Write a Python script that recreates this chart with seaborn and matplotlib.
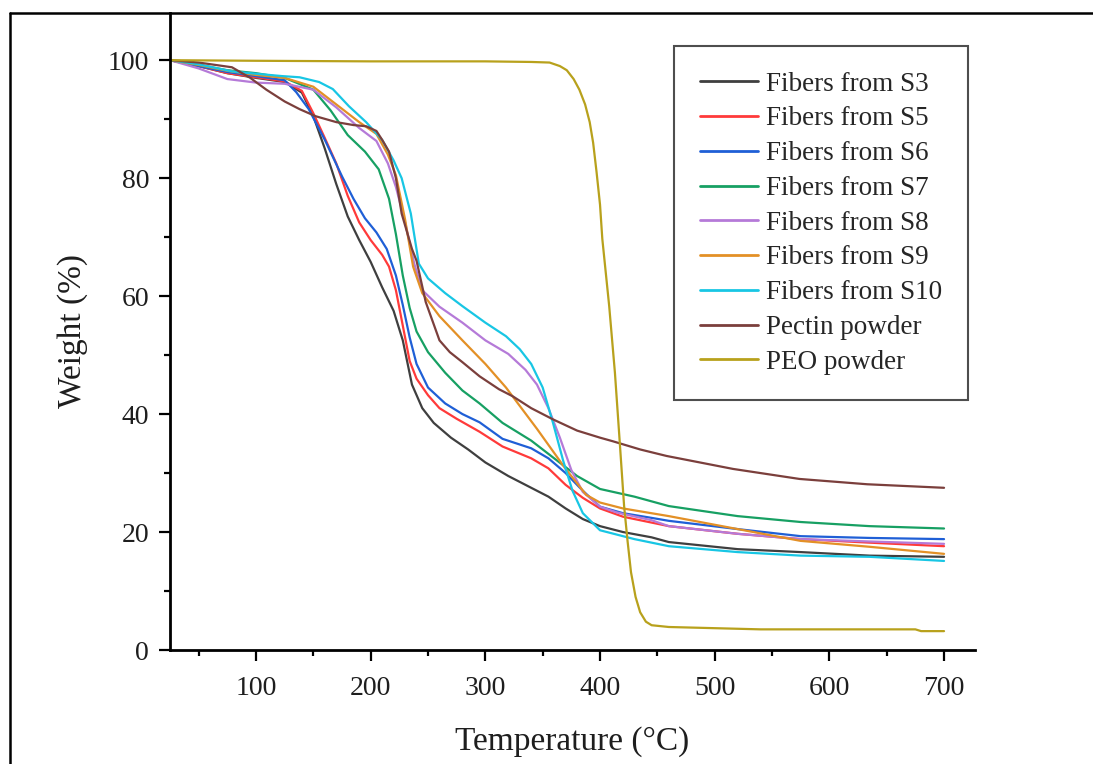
import numpy as np
import pandas as pd
import matplotlib
matplotlib.use("Agg")
import matplotlib.pyplot as plt
from matplotlib.lines import Line2D
import seaborn as sns

# ---------------- data ----------------
series_names = ["Fibers from S3", "Fibers from S5", "Fibers from S6", "Fibers from S7",
                "Fibers from S8", "Fibers from S9", "Fibers from S10",
                "Pectin powder", "PEO powder"]

s3_t = [25, 50, 75, 100, 125, 140, 150, 160, 170, 180, 190, 200, 210, 220, 228, 236, 245, 255,
        270, 285, 300, 320, 340, 355, 370, 385, 400, 420, 445, 460, 520, 575, 635, 700]
s3_w = [100, 99.0, 97.8, 97.0, 96.3, 94.5, 90.5, 85.0, 79.0, 73.5, 69.5, 65.8, 61.5, 57.5, 52.5,
        45.0, 41.0, 38.5, 36.0, 34.0, 31.8, 29.5, 27.5, 26.0, 24.0, 22.2, 21.0, 20.0, 19.1, 18.3,
        17.1, 16.6, 16.0, 15.8]

s5_t = [25, 50, 75, 100, 125, 140, 150, 160, 170, 180, 190, 200, 210, 216, 222, 228, 234, 240,
        250, 260, 275, 295, 315, 340, 355, 370, 385, 400, 420, 445, 460, 520, 575, 635, 700]
s5_w = [100, 99.0, 97.8, 97.1, 96.4, 94.8, 91.0, 86.8, 82.5, 77.0, 72.5, 69.5, 67.0, 65.0, 61.0,
        55.0, 49.0, 46.0, 43.2, 41.0, 39.2, 37.0, 34.5, 32.5, 30.8, 28.0, 25.8, 24.0, 22.6, 21.6,
        21.0, 19.7, 18.8, 18.2, 17.6]

s6_t = [25, 50, 75, 100, 125, 135, 146, 160, 175, 185, 195, 205, 214, 222, 228, 234, 240, 250,
        265, 280, 295, 315, 340, 355, 370, 385, 400, 420, 445, 460, 520, 575, 635, 700]
s6_w = [100, 99.0, 98.0, 97.3, 96.6, 94.6, 91.7, 86.5, 80.3, 76.5, 73.2, 70.8, 68.0, 63.5, 58.5,
        53.0, 48.5, 44.5, 41.8, 40.0, 38.6, 35.8, 34.2, 32.5, 30.0, 27.0, 24.3, 23.2, 22.4, 21.9,
        20.5, 19.3, 19.0, 18.8]

s7_t = [25, 50, 75, 100, 125, 150, 165, 180, 195, 207, 216, 222, 228, 234, 240, 250, 265, 280,
        295, 315, 340, 360, 380, 400, 430, 460, 520, 575, 635, 700]
s7_w = [100, 99.2, 98.3, 97.8, 97.0, 95.0, 91.5, 87.3, 84.5, 81.5, 76.5, 70.5, 63.5, 58.0, 54.0,
        50.5, 47.0, 44.0, 41.8, 38.5, 35.5, 32.5, 29.5, 27.3, 26.0, 24.4, 22.7, 21.7, 21.0, 20.6]

s8_t = [25, 50, 75, 100, 125, 150, 170, 190, 205, 215, 222, 230, 238, 245, 260, 280, 300, 320,
        335, 345, 355, 365, 375, 385, 400, 415, 445, 460, 520, 575, 635, 700]
s8_w = [100, 98.6, 96.8, 96.2, 96.0, 95.0, 92.0, 88.5, 86.3, 82.5, 78.5, 72.5, 65.5, 61.0, 58.2,
        55.5, 52.5, 50.2, 47.5, 45.0, 41.0, 36.0, 30.5, 26.8, 24.3, 23.3, 22.0, 21.0, 19.7, 18.8,
        18.4, 18.0]

s9_t = [25, 50, 75, 100, 125, 150, 170, 190, 205, 215, 222, 230, 237, 245, 260, 280, 300, 318,
        345, 370, 388, 400, 420, 460, 520, 575, 635, 700]
s9_w = [100, 99.2, 98.2, 97.5, 97.0, 95.5, 92.5, 89.5, 87.5, 84.0, 80.5, 73.0, 65.0, 60.5, 56.6,
        52.5, 48.5, 44.5, 37.5, 30.7, 26.3, 25.0, 24.0, 22.7, 20.5, 18.5, 17.5, 16.3]

s10_t = [25, 50, 79, 100, 123, 138, 155, 167, 181, 196, 210, 220, 227, 235, 242, 250, 265, 280,
         300, 318, 330, 340, 350, 359, 368, 376, 385, 400, 430, 460, 520, 575, 635, 700]
s10_w = [100, 99.3, 98.1, 97.7, 97.3, 97.1, 96.3, 95.1, 92.2, 89.5, 86.5, 83.0, 80.0, 74.0, 65.5,
         63.0, 60.5, 58.3, 55.5, 53.2, 51.0, 48.5, 44.5, 38.5, 32.0, 27.0, 23.2, 20.3, 18.8, 17.6,
         16.6, 16.0, 15.8, 15.1]

pectin_t = [25, 50, 79, 95, 109, 125, 138, 152, 170, 185, 196, 205, 210, 216, 222, 227, 236, 240,
            248, 260, 269, 280, 295, 312, 324, 340, 359, 380, 400, 411, 435, 458, 516, 574, 633, 700]
pectin_w = [100, 99.6, 98.8, 97.0, 95.0, 93.0, 91.7, 90.5, 89.5, 89.0, 88.8, 88.0, 86.5, 84.5,
            80.0, 74.0, 68.0, 66.0, 59.0, 52.5, 50.5, 48.8, 46.4, 44.2, 43.0, 41.0, 39.1, 37.2,
            36.0, 35.4, 34.0, 32.9, 30.7, 29.0, 28.1, 27.5]

peo_t = [25, 100, 200, 300, 340, 356, 365, 371, 377, 382, 387, 391, 394, 397, 400, 402, 405, 408,
         413, 417, 421, 424, 427, 431, 435, 440, 445, 460, 480, 500, 540, 600, 675, 680, 700]
peo_w = [100, 99.9, 99.8, 99.8, 99.7, 99.6, 99.0, 98.3, 96.8, 95.0, 92.5, 89.5, 86.0, 81.0, 75.5,
         69.7, 64.0, 58.3, 47.0, 35.8, 24.4, 18.5, 13.2, 9.0, 6.4, 4.8, 4.2, 3.9, 3.8, 3.7, 3.5,
         3.5, 3.5, 3.2, 3.2]

x_ticks = [100, 200, 300, 400, 500, 600, 700]
y_ticks = [0, 20, 40, 60, 80, 100]

# ---------------- build long table ----------------
temps = [s3_t, s5_t, s6_t, s7_t, s8_t, s9_t, s10_t, pectin_t, peo_t]
weights = [s3_w, s5_w, s6_w, s7_w, s8_w, s9_w, s10_w, pectin_w, peo_w]
frames = []
for name, t, w in zip(series_names, temps, weights):
    frames.append(pd.DataFrame({"Temperature": t, "Weight": w, "Sample": name}))
df = pd.concat(frames, ignore_index=True)

colors = ["#3f3f3f", "#ff3a3a", "#1f5fd6", "#17a063", "#b57ad8",
          "#e39026", "#18c6e4", "#7b3f3c", "#b8a11c"]
palette = dict(zip(series_names, colors))

# ---------------- plotting ----------------
sns.set_theme(style="ticks")
plt.rcParams["font.family"] = ["Liberation Serif", "DejaVu Serif"]
plt.rcParams["mathtext.fontset"] = "stix"

fig = plt.figure(figsize=(10.93, 7.64), dpi=100)
ax = fig.add_axes([170 / 1093, 1 - 650 / 764, (975 - 170) / 1093, (650 - 13) / 764])

sns.lineplot(data=df, x="Temperature", y="Weight", hue="Sample", hue_order=series_names,
             palette=palette, sort=False, estimator=None, linewidth=1.6, ax=ax)

ax.set_xlim(25, 727)
ax.set_ylim(0, 108)
ax.set_xticks(x_ticks)
ax.set_yticks(y_ticks)
ax.set_xticks([50, 150, 250, 350, 450, 550, 650], minor=True)
ax.set_yticks([10, 30, 50, 70, 90], minor=True)
ax.tick_params(axis="both", which="major", direction="out", length=8, width=1.6,
               labelsize=20, color="black", labelcolor="#1e1e1e")
ax.tick_params(axis="both", which="minor", direction="out", length=4.5, width=1.6, color="black")
ax.tick_params(axis="y", pad=7)
ax.tick_params(axis="x", pad=11)

for side in ["top", "right"]:
    ax.spines[side].set_visible(False)
for side in ["left", "bottom"]:
    ax.spines[side].set_linewidth(2.0)
    ax.spines[side].set_color("black")
ax.spines["bottom"].set_bounds(25, 727)

ax.set_xlabel("Temperature (\u00b0C)", fontsize=24, labelpad=18, color="#1e1e1e")
ax.set_ylabel("Weight (%)", fontsize=24, labelpad=14, color="#1e1e1e")

leg = ax.legend(loc="upper right", bbox_to_anchor=(968 / 1093, 1 - 46 / 764),
                bbox_transform=fig.transFigure, fontsize=19.5, frameon=True, fancybox=False,
                handlelength=2.15, handletextpad=0.3, labelspacing=0.36, borderpad=0.95,
                borderaxespad=0.0)
leg.get_frame().set_edgecolor("#222222")
leg.get_frame().set_linewidth(1.5)
for line in leg.get_lines():
    line.set_linewidth(2.0)

# outer image frame (top and left)
fig.add_artist(Line2D([10 / 1093, 1.0], [1 - 13 / 764, 1 - 13 / 764],
                      transform=fig.transFigure, color="black", linewidth=1.8))
fig.add_artist(Line2D([10 / 1093, 10 / 1093], [0.0, 1 - 13 / 764],
                      transform=fig.transFigure, color="black", linewidth=1.8))

fig.savefig("out.png", dpi=100)
